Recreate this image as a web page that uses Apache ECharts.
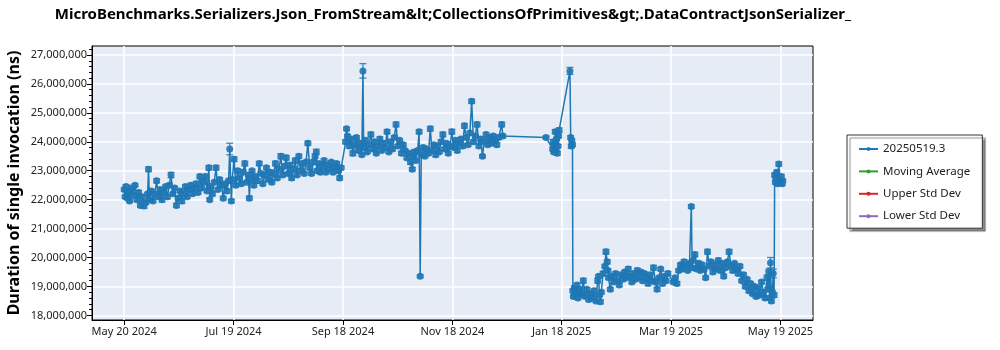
<!DOCTYPE html>
<html>
<head>
<meta charset="utf-8">
<script src="https://cdn.jsdelivr.net/npm/echarts@6/dist/echarts.min.js"></script>
<style>
  html, body { margin: 0; padding: 0; background: #ffffff; }
  #chart { width: 1000px; height: 350px; }
</style>
</head>
<body>
<div id="chart"></div>
<script>
// Benchmark run history: one point per run, value = mean duration, err = spread
const chartTitle = 'MicroBenchmarks.Serializers.Json_FromStream&lt;CollectionsOfPrimitives&gt;.DataContractJsonSerializer_';
const yAxisTitle = 'Duration of single invocation (ns)';
const seriesNames = ['20250519.3', 'Moving Average', 'Upper Std Dev', 'Lower Std Dev'];
const seriesColors = ['#1f77b4', '#2ca02c', '#d62728', '#9467bd'];

// x axis: days counted from 2024-05-20, tick every 60.75 days
const startDateUTC = Date.UTC(2024, 4, 20);
const tickStepDays = 60.75;
const xTickSteps = [0, 1, 2, 3, 4, 5, 6];
const xRangeDays = [-17.9, 382.6];

// y axis (ns)
const yTickValues = [18000000, 19000000, 20000000, 21000000, 22000000, 23000000, 24000000, 25000000, 26000000, 27000000];
const yRange = [17840000, 27310000];

// run dates, days since 2024-05-20
const dayOffsets = [
  0, 0.5, 1, 2, 2.5, 3, 4, 5, 6, 7,
  8, 9, 10, 11, 12, 13, 13.5, 14, 15, 16,
  17, 18, 19, 20, 21, 22, 23, 24, 25, 26,
  27, 28, 29, 30, 31, 32, 33, 34, 35, 36,
  37, 38, 39, 40, 41, 42, 43, 44, 45, 46,
  47, 47.5, 48, 49, 50, 51, 52, 53, 54, 55,
  56, 57, 58, 58.6, 59.5, 60, 61, 62, 63, 64,
  65, 66, 67, 68, 69, 69.5, 70, 71, 72, 73,
  74, 75, 76, 77, 78, 79, 80, 81, 82, 83,
  84, 85, 86, 87, 88, 89, 90, 91, 92, 93,
  94, 95, 96, 97, 98, 99, 100, 101, 102, 103,
  104, 105, 106, 106.7, 107, 108, 109, 110, 111, 112,
  113, 114, 115, 116, 117, 118, 119, 119.7, 120.5,
  123, 123.5, 124, 125, 126, 127, 128, 129, 130, 131,
  132, 132.6, 133, 134, 135, 136, 137, 138, 139, 140,
  141, 142, 143, 144, 145, 146, 147, 148, 149, 150,
  151, 152, 153, 154, 155, 156, 157, 158, 159, 160,
  160.5, 161, 162, 163, 163.8, 164.4, 165, 166, 167, 168,
  169, 170, 171, 172, 173, 174, 175, 176, 177, 178,
  179, 180, 181, 182, 183, 184, 185, 186, 187, 188,
  189, 190, 191, 192, 193, 194, 195, 196, 197, 198,
  199, 200, 201, 202, 203, 204, 205, 206, 207, 208,
  209.7, 210.3, 234.3, 238, 238.3, 238.6, 239, 239.4, 239.8, 240.2,
  240.6, 241, 241.3, 241.6, 247.6, 248, 248.3, 248.6, 249,
  249.2, 249.5, 250, 250.5, 251, 251.5, 252, 253, 253.5, 254,
  255, 256, 257, 258, 259, 260, 261, 262, 263, 263.5,
  264, 264.5, 265, 266, 267, 267.6, 268.3, 268.7, 269, 270,
  271, 272, 273, 274, 275, 276, 277, 278, 279, 280,
  281, 282, 283, 284, 285, 286, 287, 288, 289, 290,
  291, 292, 293, 294, 295, 296, 297, 298, 299, 300,
  301, 302, 305, 306, 307, 308, 309, 310, 311, 312,
  313, 314, 315, 315.5, 316, 317, 318, 319, 320, 321,
  322, 323, 324, 325, 326, 327, 328, 329, 330, 331,
  332, 333, 334, 335, 336, 337, 338, 339, 340, 341,
  342, 343, 344, 345, 346, 347, 348, 349, 350, 351,
  352, 353, 354, 355, 356, 357, 357.5, 358, 358.6, 359,
  359.5, 360, 360.5, 361, 361.3, 361.7, 362, 362.5, 363, 363.6,
  364, 364.5, 365, 365.5, 365.8
];

// mean duration per run, millions of ns
const durationsM = [
  22.35, 22.10, 22.45, 22.05, 22.30, 21.95, 22.40, 22.15, 22.50, 22.00,
  22.25, 21.80, 22.10, 21.78, 21.90, 22.20, 23.05, 22.00, 22.30, 21.95,
  22.20, 22.65, 22.10, 22.35, 22.00, 22.25, 22.45, 22.10, 22.50, 22.85,
  22.20, 22.40, 21.80, 22.05, 22.30, 21.95, 22.20, 22.45, 22.10, 22.35,
  22.50, 22.20, 22.40, 22.55, 22.25, 22.80, 22.40, 22.60, 22.80, 22.30,
  23.10, 22.00, 22.45, 22.20, 22.60, 23.10, 22.35, 22.70, 22.50, 22.05,
  22.55, 22.30, 22.65, 23.75, 21.95, 22.70, 23.40, 22.50, 23.00, 22.75,
  22.55, 22.95, 23.25, 22.60, 22.85, 22.05, 22.70, 23.00, 22.50, 22.80,
  22.65, 23.25, 22.90, 22.55, 22.85, 23.10, 22.70, 22.95, 22.60, 22.90,
  23.25, 22.75, 23.05, 23.50, 22.85, 23.15, 23.45, 22.90, 23.20, 22.75,
  23.05, 23.35, 22.85, 23.50, 23.00, 23.25, 22.90, 23.30, 23.95, 23.10,
  22.90, 23.30, 23.50, 23.65, 23.00, 23.25, 22.95, 23.15, 23.35, 22.95,
  23.20, 23.05, 23.30, 22.95, 23.15, 23.25, 23.00, 22.75, 23.10,
  24.00, 24.45, 24.20, 23.85, 24.10, 23.60, 23.90, 24.15, 23.70, 23.95,
  23.55, 26.45, 23.80, 24.05, 23.65, 23.90, 24.25, 23.75, 24.00, 23.60,
  23.85, 24.10, 23.70, 23.95, 23.80, 24.35, 23.65, 24.00, 23.75, 24.15,
  24.60, 23.85, 24.05, 23.60, 23.90, 23.70, 23.45, 23.60, 23.30, 23.05,
  23.50, 23.65, 23.35, 23.70, 24.35, 19.35, 23.55, 23.80, 23.50, 23.75,
  23.60, 24.45, 23.70, 23.90, 23.55, 23.85, 23.65, 24.00, 24.25, 23.75,
  23.95, 23.60, 23.85, 24.35, 23.80, 24.05, 23.70, 23.95, 24.10, 23.85,
  24.55, 24.15, 23.90, 24.30, 25.40, 24.00, 24.20, 24.60, 23.85, 24.10,
  23.50, 24.00, 24.25, 23.90, 24.15, 23.95, 24.20, 24.05, 23.90, 24.15,
  24.60, 24.20, 24.15, 23.75, 24.00, 23.65, 23.90, 24.35, 23.70, 24.10,
  23.60, 23.85, 24.20, 24.40, 26.45, 24.15, 23.85, 24.05, 23.90,
  18.85, 18.65, 18.95, 18.70, 18.80, 19.05, 18.60, 18.90, 18.70, 18.80,
  19.20, 18.65, 18.90, 18.55, 18.75, 18.60, 18.85, 18.50, 19.20, 19.35,
  18.70, 18.47, 18.80, 19.45, 19.70, 20.20, 19.85, 19.55, 19.30, 18.90,
  19.35, 19.15, 19.45, 19.20, 19.05, 19.40, 19.25, 19.50, 19.30, 19.60,
  19.35, 19.15, 19.45, 19.25, 19.55, 19.30, 19.50, 19.20, 19.45, 19.30,
  19.10, 19.40, 19.20, 19.65, 19.15, 18.90, 19.30, 19.60, 19.10, 19.35,
  19.20, 19.45, 19.15, 19.30, 19.10, 19.55, 19.75, 19.60, 19.85, 19.70,
  19.55, 19.80, 21.76, 19.65, 19.90, 20.10, 19.60, 19.80, 19.55, 19.75,
  19.60, 19.30, 20.20, 19.70, 19.85, 19.50, 19.75, 19.60, 19.90, 19.55,
  19.80, 19.35, 19.65, 19.85, 20.20, 19.70, 19.55, 19.80, 19.60, 19.45,
  19.70, 19.20, 19.40, 19.00, 19.25, 18.85, 19.10, 18.75, 19.00, 18.65,
  18.95, 18.70, 19.15, 18.80, 18.60, 19.30, 18.90, 19.50, 18.60, 19.82,
  18.50, 18.80, 19.45, 18.70, 22.85, 22.60, 22.75, 22.95, 22.55, 23.23,
  22.70, 22.60, 22.80, 22.55, 22.65
];

// half-width of the error bar per run, millions of ns
const errorsM = [
  0.06, 0.05, 0.07, 0.06, 0.08, 0.05, 0.06, 0.07, 0.05, 0.06,
  0.07, 0.06, 0.05, 0.08, 0.06, 0.05, 0.08, 0.07, 0.06, 0.05,
  0.06, 0.07, 0.05, 0.06, 0.08, 0.06, 0.05, 0.07, 0.06, 0.09,
  0.05, 0.06, 0.07, 0.06, 0.05, 0.08, 0.06, 0.07, 0.05, 0.06,
  0.07, 0.05, 0.06, 0.08, 0.06, 0.07, 0.05, 0.06, 0.07, 0.05,
  0.08, 0.06, 0.05, 0.07, 0.06, 0.08, 0.05, 0.06, 0.07, 0.06,
  0.05, 0.07, 0.06, 0.20, 0.06, 0.05, 0.08, 0.06, 0.07, 0.05,
  0.06, 0.07, 0.08, 0.05, 0.06, 0.07, 0.06, 0.05, 0.07, 0.06,
  0.08, 0.07, 0.05, 0.06, 0.07, 0.06, 0.05, 0.08, 0.06, 0.07,
  0.08, 0.06, 0.05, 0.09, 0.06, 0.07, 0.08, 0.05, 0.06, 0.07,
  0.06, 0.08, 0.05, 0.07, 0.06, 0.07, 0.05, 0.06, 0.07, 0.06,
  0.05, 0.07, 0.08, 0.09, 0.06, 0.05, 0.07, 0.06, 0.07, 0.05,
  0.06, 0.07, 0.05, 0.06, 0.07, 0.06, 0.05, 0.07, 0.06,
  0.07, 0.06, 0.05, 0.07, 0.06, 0.08, 0.05, 0.06, 0.07, 0.06,
  0.05, 0.25, 0.06, 0.07, 0.05, 0.06, 0.08, 0.06, 0.07, 0.05,
  0.06, 0.07, 0.05, 0.08, 0.06, 0.07, 0.05, 0.06, 0.07, 0.06,
  0.08, 0.05, 0.06, 0.07, 0.06, 0.05, 0.07, 0.06, 0.08, 0.06,
  0.05, 0.07, 0.06, 0.05, 0.07, 0.05, 0.06, 0.07, 0.05, 0.06,
  0.07, 0.08, 0.06, 0.05, 0.07, 0.06, 0.05, 0.07, 0.08, 0.06,
  0.05, 0.06, 0.07, 0.08, 0.06, 0.05, 0.07, 0.06, 0.05, 0.07,
  0.08, 0.06, 0.05, 0.07, 0.07, 0.06, 0.05, 0.08, 0.06, 0.07,
  0.05, 0.06, 0.07, 0.06, 0.05, 0.07, 0.06, 0.05, 0.07, 0.06,
  0.08, 0.06, 0.05, 0.06, 0.07, 0.05, 0.06, 0.07, 0.05, 0.06,
  0.07, 0.05, 0.06, 0.08, 0.12, 0.06, 0.07, 0.05, 0.06,
  0.06, 0.05, 0.07, 0.06, 0.05, 0.07, 0.06, 0.05, 0.07, 0.06,
  0.08, 0.05, 0.06, 0.07, 0.05, 0.06, 0.07, 0.05, 0.08, 0.06,
  0.05, 0.07, 0.06, 0.07, 0.06, 0.08, 0.07, 0.06, 0.05, 0.06,
  0.07, 0.05, 0.06, 0.07, 0.06, 0.05, 0.07, 0.06, 0.05, 0.08,
  0.06, 0.05, 0.07, 0.06, 0.08, 0.05, 0.06, 0.07, 0.05, 0.06,
  0.07, 0.06, 0.05, 0.08, 0.06, 0.07, 0.05, 0.06, 0.07, 0.05,
  0.06, 0.07, 0.05, 0.06, 0.07, 0.06, 0.05, 0.07, 0.08, 0.06,
  0.05, 0.06, 0.06, 0.07, 0.05, 0.08, 0.06, 0.07, 0.05, 0.06,
  0.07, 0.06, 0.08, 0.05, 0.06, 0.07, 0.05, 0.06, 0.08, 0.06,
  0.05, 0.07, 0.06, 0.05, 0.08, 0.06, 0.07, 0.05, 0.06, 0.07,
  0.06, 0.05, 0.07, 0.06, 0.05, 0.07, 0.06, 0.05, 0.07, 0.06,
  0.05, 0.07, 0.06, 0.08, 0.06, 0.09, 0.07, 0.10, 0.08, 0.18,
  0.07, 0.06, 0.15, 0.08, 0.07, 0.06, 0.05, 0.07, 0.06, 0.07,
  0.06, 0.05, 0.07, 0.06, 0.05
];

const FONT = '"Noto Sans", "Open Sans", sans-serif';
const MONTHS = ['Jan', 'Feb', 'Mar', 'Apr', 'May', 'Jun', 'Jul', 'Aug', 'Sep', 'Oct', 'Nov', 'Dec'];

function stepLabel(step) {
  const d = new Date(startDateUTC + step * tickStepDays * 86400000);
  return MONTHS[d.getUTCMonth()] + ' ' + d.getUTCDate() + ' ' + d.getUTCFullYear();
}
function toStep(day) { return day / tickStepDays; }

const runPoints = dayOffsets.map((d, i) => [toStep(d), durationsM[i] * 1e6]);
const errPoints = dayOffsets.map((d, i) => [toStep(d), (durationsM[i] - errorsM[i]) * 1e6, (durationsM[i] + errorsM[i]) * 1e6]);

const chart = echarts.init(document.getElementById('chart'), null, { renderer: 'canvas' });

function emptyLine(idx) {
  return {
    name: seriesNames[idx],
    type: 'line',
    data: [],
    symbol: 'circle',
    itemStyle: { color: seriesColors[idx] },
    lineStyle: { color: seriesColors[idx], width: 1.5 }
  };
}

chart.setOption({
  animation: false,
  backgroundColor: '#ffffff',
  textStyle: { fontFamily: FONT },
  title: {
    text: chartTitle,
    left: 453,
    top: 7,
    padding: 0,
    textAlign: 'center',
    textStyle: { fontFamily: FONT, fontSize: 15, fontWeight: 'bold', color: '#000' }
  },
  grid: {
    left: 92, right: 187, top: 46, bottom: 30,
    show: true,
    backgroundColor: '#e5ecf6',
    borderColor: '#000',
    borderWidth: 1,
    containLabel: false,
    outerBoundsMode: 'none'
  },
  legend: {
    orient: 'vertical',
    left: 847,
    top: 135,
    data: seriesNames,
    itemWidth: 19,
    itemHeight: 5,
    itemGap: 8.4,
    padding: [7, 12, 5, 11],
    backgroundColor: '#ffffff',
    borderColor: '#333',
    borderWidth: 1,
    borderRadius: 0,
    shadowColor: 'rgba(0,0,0,0.45)',
    shadowBlur: 1,
    shadowOffsetX: 3,
    shadowOffsetY: 3,
    textStyle: { fontFamily: FONT, fontSize: 11.5, color: '#222', lineHeight: 14 },
    selectedMode: false
  },
  xAxis: {
    type: 'value',
    min: toStep(xRangeDays[0]),
    max: toStep(xRangeDays[1]),
    minInterval: 1,
    maxInterval: 1,
    axisLine: { show: true, onZero: false, lineStyle: { color: '#000', width: 1 } },
    axisTick: { show: true, inside: false, length: 5, customValues: xTickSteps, lineStyle: { color: '#000' } },
    axisLabel: {
      customValues: xTickSteps,
      formatter: v => stepLabel(v),
      fontFamily: FONT, fontSize: 11, color: '#222', margin: 6
    },
    splitLine: { show: true, lineStyle: { color: '#ffffff', width: 1.5 } }
  },
  yAxis: {
    type: 'value',
    min: yRange[0],
    max: yRange[1],
    minInterval: 1000000,
    maxInterval: 1000000,
    name: yAxisTitle,
    nameLocation: 'middle',
    nameGap: 70,
    nameMoveOverlap: false,
    nameTextStyle: { fontFamily: FONT, fontSize: 16, fontWeight: 'bold', color: '#000' },
    axisLine: { show: true, onZero: false, lineStyle: { color: '#000', width: 1 } },
    axisTick: { show: true, inside: false, length: 5, customValues: yTickValues, lineStyle: { color: '#000' } },
    minorTick: { show: true, splitNumber: 5, length: 3, lineStyle: { color: '#000' } },
    axisLabel: {
      customValues: yTickValues,
      formatter: v => Math.round(v).toLocaleString('en-US'),
      fontFamily: FONT, fontSize: 11, color: '#222', margin: 5
    },
    splitLine: { show: true, lineStyle: { color: '#ffffff', width: 1.5 } }
  },
  series: [
    {
      name: 'errorBars',
      type: 'custom',
      silent: true,
      clip: true,
      z: 2,
      data: errPoints,
      encode: { x: 0, y: [1, 2] },
      renderItem: function (params, api) {
        const x = api.value(0);
        const lo = api.coord([x, api.value(1)]);
        const hi = api.coord([x, api.value(2)]);
        const hw = 3.5;
        const style = { stroke: 'rgba(31,119,180,0.85)', lineWidth: 1.3 };
        return {
          type: 'group',
          children: [
            { type: 'line', shape: { x1: lo[0], y1: lo[1], x2: hi[0], y2: hi[1] }, style: style },
            { type: 'line', shape: { x1: lo[0] - hw, y1: lo[1], x2: lo[0] + hw, y2: lo[1] }, style: style },
            { type: 'line', shape: { x1: hi[0] - hw, y1: hi[1], x2: hi[0] + hw, y2: hi[1] }, style: style }
          ]
        };
      }
    },
    {
      name: seriesNames[0],
      type: 'line',
      data: runPoints,
      z: 3,
      symbol: 'circle',
      symbolSize: 7,
      showAllSymbol: true,
      clip: true,
      itemStyle: { color: seriesColors[0], opacity: 0.9 },
      lineStyle: { color: seriesColors[0], width: 1.5 }
    },
    emptyLine(1),
    emptyLine(2),
    emptyLine(3)
  ]
});
</script>
</body>
</html>
